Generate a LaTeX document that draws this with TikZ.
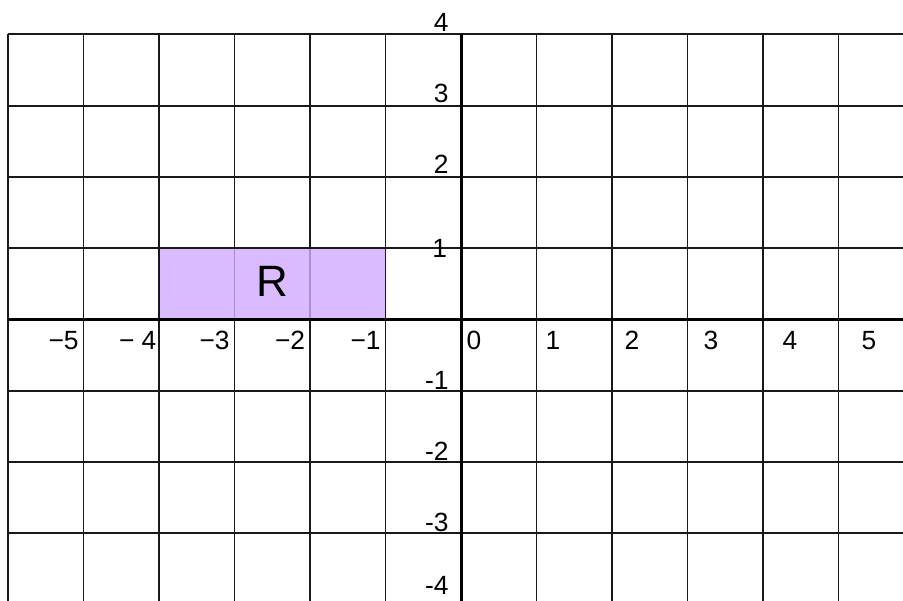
\documentclass[tikz,border=0pt]{standalone}
\usepackage{fontspec}
\setmainfont{Liberation Sans}
\usepackage{tikz}

\definecolor{regfill}{RGB}{209,170,255}

\begin{document}
\begin{tikzpicture}[x=1.51cm,y=1.426cm,font=\fontsize{15}{17}\selectfont]
\useasboundingbox (-6.106,-3.934) rectangle (5.854,4.481);
\clip (-6.106,-3.934) rectangle (5.854,4.481);
\draw[step=1.0,black!90,line width=1.1pt] (-6,-4) grid (6,4);

% region R
\fill[regfill,fill opacity=0.8] (-4,0) rectangle (-1,1);
\draw[black!90,line width=1.1pt] (-4,0) rectangle (-1,1);
\node (R) at (-2.5,0.53) {\fontsize{25}{27}\selectfont R};

% axes
\draw[black, line width=1.7pt] (-6,0) -- (6,0);
\draw[black, line width=1.7pt] (0,-4) -- (0,4);

% x labels
\foreach \i in {0,...,5}
  \node (xp\i) at ({0.172+1.046*\i},-0.29) {\i};
\foreach \i in {-5,-3,-2,-1}
  \node[anchor=east,inner sep=0pt] (xn\i) at (\i-0.06,-0.29) {−\the\numexpr-\i\relax};
\node[anchor=east,inner sep=0pt] (xn-4) at (-4.03,-0.29) {−\ 4};

% y labels
\foreach \i in {2,3,4}
  \node[anchor=south east,inner sep=0pt] (yp\i) at (-0.16,\i+0.04) {\i};
\node[anchor=east,inner sep=0pt] (yp1) at (-0.18,1) {1};
\foreach \i in {-1,-2,-3}
  \node[anchor=south east,inner sep=0pt] (yn\i) at (-0.16,\i+0.02) {\i};
\node[anchor=south east,inner sep=0pt] (yn-4) at (-0.16,-3.86) {-4};
\end{tikzpicture}
\end{document}
